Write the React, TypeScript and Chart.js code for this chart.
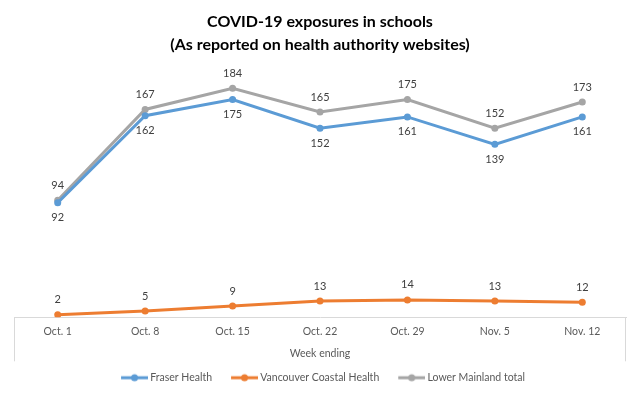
import React, { useEffect, useRef } from "react";
import { Chart, registerables } from "chart.js";

Chart.register(...registerables);

const categories = ["Oct. 1", "Oct. 8", "Oct. 15", "Oct. 22", "Oct. 29", "Nov. 5", "Nov. 12"];
const fraserHealth = [92, 162, 175, 152, 161, 139, 161];
const vancouverCoastal = [2, 5, 9, 13, 14, 13, 12];
const lowerMainland = [94, 167, 184, 165, 175, 152, 173];
const titleLines = ["COVID-19 exposures in schools", "(As reported on health authority websites)"];
const xAxisTitle = "Week ending";

const FONT = "Lato, 'Open Sans', sans-serif";
const TEXT = "#595959";

function makeMarker(color: string): HTMLCanvasElement {
  const c = document.createElement("canvas");
  c.width = 36;
  c.height = 10;
  const g = c.getContext("2d")!;
  g.strokeStyle = color;
  g.lineWidth = 3;
  g.beginPath();
  g.moveTo(9, 5);
  g.lineTo(36, 5);
  g.stroke();
  g.fillStyle = color;
  g.beginPath();
  g.arc(22.5, 5, 3.5, 0, Math.PI * 2);
  g.fill();
  return c;
}

const labelPlugin = {
  id: "pointLabels",
  afterDatasetsDraw(chart: any) {
    const ctx = chart.ctx;
    ctx.save();
    ctx.font = `11px ${FONT}`;
    ctx.fillStyle = "#404040";
    ctx.textAlign = "center";
    ctx.textBaseline = "middle";
    chart.data.datasets.forEach((ds: any, di: number) => {
      const meta = chart.getDatasetMeta(di);
      meta.data.forEach((pt: any, i: number) => {
        const below = ds.labelPos === "below";
        const y = below ? pt.y + 15 : pt.y - 15;
        ctx.fillText(String(ds.data[i]), pt.x, y);
      });
    });
    ctx.restore();
  },
};

const framePlugin = {
  id: "axisFrame",
  beforeDatasetsDraw(chart: any) {
    const { ctx, chartArea } = chart;
    ctx.save();
    ctx.strokeStyle = "#d9d9d9";
    ctx.lineWidth = 1;
    ctx.beginPath();
    ctx.moveTo(chartArea.left + 0.5, chartArea.bottom);
    ctx.lineTo(chartArea.left + 0.5, chartArea.bottom + 44);
    ctx.moveTo(chartArea.right - 0.5, chartArea.bottom);
    ctx.lineTo(chartArea.right - 0.5, chartArea.bottom + 44);
    ctx.stroke();
    ctx.restore();
  },
};

export default function App() {
  const ref = useRef<HTMLCanvasElement | null>(null);

  useEffect(() => {
    document.body.style.margin = "0";
    if (!ref.current) return;
    const colors = ["#5b9bd5", "#ed7d31", "#a5a5a5"];
    const chart = new Chart(ref.current, {
      type: "line",
      data: {
        labels: categories,
        datasets: [
          { label: "Fraser Health", data: fraserHealth, labelPos: "below" } as any,
          { label: "Vancouver Coastal Health", data: vancouverCoastal, labelPos: "above" } as any,
          { label: "Lower Mainland total", data: lowerMainland, labelPos: "above" } as any,
        ].map((d: any, i: number) => ({
          ...d,
          borderColor: colors[i],
          backgroundColor: colors[i],
          borderWidth: 3,
          pointRadius: 3.5,
          pointHoverRadius: 3.5,
          pointBorderWidth: 0,
          tension: 0,
          order: i === 2 ? 3 : i,
        })),
      },
      options: {
        animation: false,
        responsive: false,
        layout: { padding: { left: 14, right: 14, top: 0, bottom: 3 } },
        scales: {
          x: {
            offset: true,
            grid: { display: false, drawTicks: false },
            border: { display: true, color: "#d9d9d9" },
            ticks: { color: TEXT, font: { family: FONT, size: 10.5 }, padding: 8 },
            title: {
              display: true,
              text: xAxisTitle,
              color: TEXT,
              font: { family: FONT, size: 10.5 },
              padding: { top: 1, bottom: 0 },
            },
          },
          y: { display: false, min: 0, max: 200 },
        },
        plugins: {
          title: {
            display: true,
            text: titleLines,
            color: "#000000",
            font: { family: FONT, size: 16, weight: "bold", lineHeight: 1.45 },
            padding: { top: 10, bottom: 12 },
          },
          legend: {
            position: "bottom",
            labels: {
              color: TEXT,
              font: { family: FONT, size: 10.5 },
              usePointStyle: true,
              pointStyleWidth: 30,
              boxHeight: 10,
              padding: 13,
              generateLabels: (ch: any) => {
                const items = Chart.defaults.plugins.legend.labels.generateLabels(ch);
                return items.map((it: any, i: number) => ({ ...it, pointStyle: makeMarker(colors[i]) }));
              },
            },
          },
          tooltip: { enabled: false },
        },
      } as any,
      plugins: [labelPlugin, framePlugin],
    });
    return () => chart.destroy();
  }, []);

  return (
    <div style={{ width: 640, height: 396, background: "#fff" }}>
      <canvas ref={ref} width={640} height={396} />
    </div>
  );
}
